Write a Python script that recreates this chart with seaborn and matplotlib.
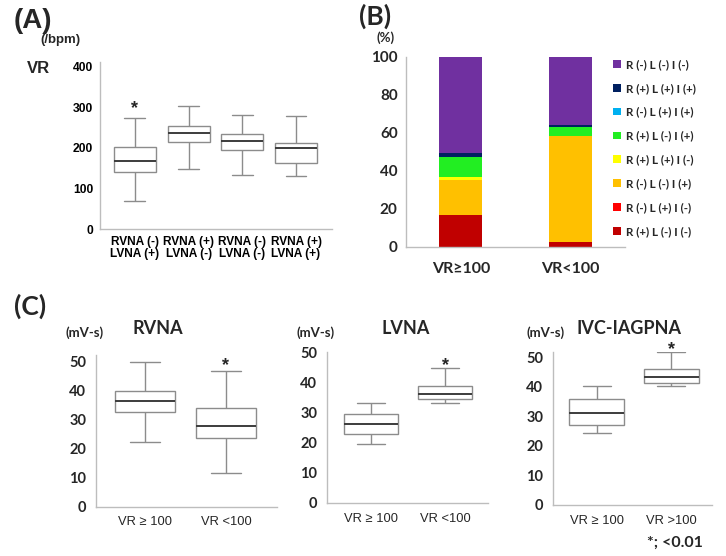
import numpy as np
import pandas as pd
import matplotlib
matplotlib.use("Agg")
import matplotlib.pyplot as plt
import seaborn as sns
from matplotlib.patches import Patch

sns.set_theme(style="white")
plt.rcParams["font.family"] = ["Liberation Sans", "DejaVu Sans"]

W, H = 726, 556

# ---------------- data ----------------
# Panel A: VR (/bpm) five-number summaries
a_groups = ["RVNA (-)\nLVNA (+)", "RVNA (+)\nLVNA (-)", "RVNA (-)\nLVNA (-)", "RVNA (+)\nLVNA (+)"]
a_min = [69, 149, 134, 130]
a_q1 = [141, 214, 194, 163]
a_med = [168, 238, 218, 201]
a_q3 = [203, 255, 235, 213]
a_max = [275, 303, 282, 280]
a_yticks = [0, 100, 200, 300, 400]

# Panel B: stacked percentages (bottom -> top)
b_groups = ["VR≥100", "VR<100"]
b_labels = ["R (+) L (-) I (-)", "R (-) L (+) I (-)", "R (-) L (-) I (+)", "R (+) L (+) I (-)",
            "R (+) L (-) I (+)", "R (-) L (+) I (+)", "R (+) L (+) I (+)", "R (-) L (-) I (-)"]
b_ge100 = [16.7, 0.0, 18.4, 1.8, 10.4, 0.0, 2.3, 50.4]
b_lt100 = [2.5, 0.0, 56.0, 0.0, 4.8, 0.0, 0.8, 35.9]
b_colors = ["#C00000", "#FF0000", "#FFC000", "#FFFF00", "#22EE22", "#00B0F0", "#002060", "#7030A0"]
b_yticks = [0, 20, 40, 60, 80, 100]

# Panel C: (mV-s) five-number summaries
c_titles = ["RVNA", "LVNA", "IVC-IAGPNA"]
c_groups = [["VR ≥ 100", "VR <100"], ["VR ≥ 100", "VR <100"], ["VR ≥ 100", "VR >100"]]
rvna_min = [22.2, 11.5]; rvna_q1 = [32.5, 23.8]; rvna_med = [36.6, 27.9]; rvna_q3 = [39.8, 33.9]; rvna_max = [49.8, 46.8]
lvna_min = [19.8, 33.3]; lvna_q1 = [22.9, 34.8]; lvna_med = [26.3, 36.2]; lvna_q3 = [29.8, 38.9]; lvna_max = [33.3, 45.1]
ivc_min = [24.3, 40.1]; ivc_q1 = [27.1, 41.2]; ivc_med = [31.1, 43.1]; ivc_q3 = [35.8, 45.8]; ivc_max = [40.1, 51.8]
c_yticks = [0, 10, 20, 30, 40, 50]

# ---------------- helpers ----------------
fig = plt.figure(figsize=(W / 100, H / 100), dpi=100)
fig.patch.set_facecolor("white")

def ax_px(l, t, r, b):
    ax = fig.add_axes([l / W, 1 - b / H, (r - l) / W, (b - t) / H])
    ax.set_facecolor("white")
    return ax

def ftext(x, y, s, **kw):
    fig.text(x / W, 1 - y / H, s, **kw)

SPINE = "#bdbdbd"

def style_axes(ax):
    for side in ["top", "right"]:
        ax.spines[side].set_visible(False)
    for side in ["left", "bottom"]:
        ax.spines[side].set_color(SPINE)
        ax.spines[side].set_linewidth(1.0)
    ax.set_xlabel("")
    ax.set_ylabel("")

def draw_box(ax, groups, mins, q1s, meds, q3s, maxs, width):
    rows = []
    for g, a, b, c, d, e in zip(groups, mins, q1s, meds, q3s, maxs):
        for v in (a, b, c, d, e):
            rows.append((g, v))
    df = pd.DataFrame(rows, columns=["group", "value"])
    sns.boxplot(data=df, x="group", y="value", order=groups, ax=ax, whis=(0, 100),
                width=width, color="white", saturation=1, linecolor="#8c8c8c",
                linewidth=1.0, fliersize=0,
                medianprops=dict(color="#3c3c3c", linewidth=1.4))
    style_axes(ax)

LATO = ["Lato", "DejaVu Sans"]
ARIAL = ["Liberation Sans", "DejaVu Sans"]

# ---------------- Panel A ----------------
axA = ax_px(100, 62, 332, 229)
draw_box(axA, a_groups, a_min, a_q1, a_med, a_q3, a_max, 0.78)
axA.set_ylim(0, 412)
axA.set_xlim(-0.65, 3.67)
axA.set_yticks(a_yticks)
axA.set_yticklabels([str(v) for v in a_yticks], fontsize=8.7, fontweight="bold", family=ARIAL)
axA.set_xticks(range(4))
axA.set_xticklabels(a_groups, fontsize=8.6, fontweight="bold", family=ARIAL, linespacing=1.0)
axA.tick_params(axis="both", which="major", length=3, width=1, color="#777777", pad=2, colors="black")
axA.tick_params(axis="x", colors="black", color="#777777")
axA.text(0, 296, "*", ha="center", va="center", fontsize=13, fontweight="bold")
ftext(14, 28, "(A)", fontsize=20, fontweight="bold", va="baseline", ha="left")
ftext(40, 43, "(/bpm)", fontsize=9.5, fontweight="bold", va="baseline", ha="left")
ftext(27, 73, "VR", fontsize=12, fontweight="bold", va="baseline", ha="left")

# ---------------- Panel B ----------------
axB = ax_px(406, 57, 625, 247)
cum_ge = np.cumsum(b_ge100)
cum_lt = np.cumsum(b_lt100)
for i in reversed(range(len(b_labels))):
    dfb = pd.DataFrame({"group": b_groups, "value": [cum_ge[i], cum_lt[i]]})
    sns.barplot(data=dfb, x="group", y="value", order=b_groups, color=b_colors[i],
                saturation=1, width=0.39, ax=axB, errorbar=None, linewidth=0)
style_axes(axB)
axB.set_ylim(0, 100)
axB.set_xlim(-0.5, 1.5)
axB.set_yticks(b_yticks)
axB.set_yticklabels([str(v) for v in b_yticks], fontsize=11, fontweight="bold", family=LATO)
axB.set_xticks([0, 1])
axB.set_xticklabels(b_groups, fontsize=11.5, fontweight="bold", family=LATO)
axB.set_xticks([-0.5, 0.5, 1.5], minor=True)
axB.tick_params(axis="x", which="major", length=0, pad=11)
axB.tick_params(axis="x", which="minor", length=4, width=1, color=SPINE)
axB.tick_params(axis="y", which="major", length=3, width=1, color=SPINE, pad=3)
handles = [Patch(facecolor=c, edgecolor="none") for c in b_colors][::-1]
axB.legend(handles, b_labels[::-1], loc="upper left", bbox_to_anchor=(613 / W, 1 - 59 / H),
           bbox_transform=fig.transFigure, frameon=False,
           prop=dict(family=LATO, weight="bold", size=8.4),
           handlelength=0.65, handleheight=0.65, handletextpad=0.5, labelspacing=1.1,
           borderaxespad=0, borderpad=0)
ftext(359, 25, "(B)", fontsize=19, fontweight="bold", va="baseline", ha="left", family=LATO)
ftext(386, 42, "(%)", fontsize=9.5, fontweight="bold", va="baseline", ha="center", family=LATO)

# ---------------- Panel C ----------------
c_specs = [
    ((96, 355, 277, 506.7), (0, 52.3), (-0.605, 1.63), rvna_min, rvna_q1, rvna_med, rvna_q3, rvna_max, 48.6, 158, 85),
    ((327, 351.7, 488, 503), (0, 50.4), (-0.595, 1.58), lvna_min, lvna_q1, lvna_med, lvna_q3, lvna_max, 45.8, 406, 316),
    ((553, 352, 712, 505), (0, 51.7), (-0.59, 1.55), ivc_min, ivc_q1, ivc_med, ivc_q3, ivc_max, 52.6, 629, 546),
]
for k, (box, ylim, xlim, mn, q1, md, q3, mx, star_y, title_x, unit_x) in enumerate(c_specs):
    ax = ax_px(*box)
    draw_box(ax, c_groups[k], mn, q1, md, q3, mx, 0.74)
    ax.set_ylim(*ylim)
    ax.set_xlim(*xlim)
    ax.set_yticks(c_yticks)
    ax.set_yticklabels([str(v) for v in c_yticks], fontsize=10.5, fontweight="bold", family=LATO)
    ax.set_xticks([0, 1])
    ax.set_xticklabels(c_groups[k], fontsize=9.3,
                       family=["Liberation Sans Narrow", "Liberation Sans", "DejaVu Sans"])
    ax.tick_params(axis="both", which="major", length=3, width=1, color=SPINE, pad=4)
    t = ax.text(1, star_y, "*", ha="center", va="center", fontsize=13, fontweight="bold")
    t.set_clip_on(False)
    ftext(title_x, 334, c_titles[k], fontsize=13, fontweight="bold", ha="center", va="baseline",
          family=LATO)
    ftext(unit_x, 336.5, "(mV-s)", fontsize=9.5, fontweight="bold", ha="center", va="baseline",
          family=LATO)

ftext(14, 315, "(C)", fontsize=19, fontweight="bold", va="baseline", ha="left", family=LATO)
ftext(703, 546.5, "*; <0.01", fontsize=11.5, fontweight="bold", va="baseline", ha="right", family=LATO)

fig.savefig("out.png", dpi=100, facecolor="white")
